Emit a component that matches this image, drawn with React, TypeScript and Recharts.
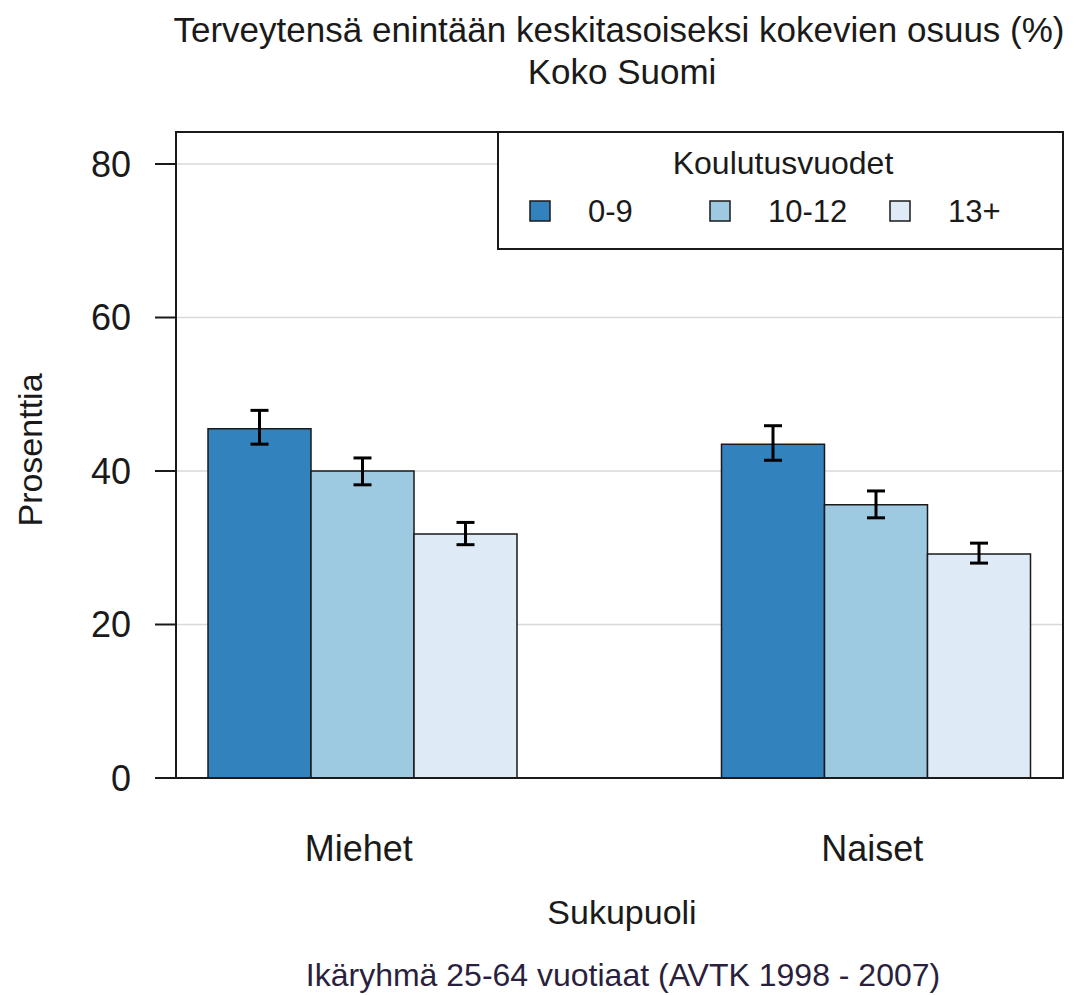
import React from 'react';
import { BarChart, Bar, XAxis, YAxis, CartesianGrid, ErrorBar, Legend } from 'recharts';

const categories = ['Miehet', 'Naiset'];
const seriesNames = ['0-9', '10-12', '13+'];
const seriesColors = ['#3182bd', '#9ecae1', '#deebf7'];

const values09 = [45.5, 43.5];
const low09 = [43.5, 41.4];
const high09 = [47.9, 45.9];

const values1012 = [40.0, 35.6];
const low1012 = [38.2, 33.9];
const high1012 = [41.7, 37.4];

const values13 = [31.8, 29.2];
const low13 = [30.4, 28.0];
const high13 = [33.3, 30.6];

const yTicks = [0, 20, 40, 60, 80];

const titleLine1 = 'Terveytensä enintään keskitasoiseksi kokevien osuus (%)';
const titleLine2 = 'Koko Suomi';
const xTitle = 'Sukupuoli';
const yTitle = 'Prosenttia';
const legendTitle = 'Koulutusvuodet';
const footer = 'Ikäryhmä 25-64 vuotiaat (AVTK 1998 - 2007)';

const data = categories.map((c, i) => ({
  name: c,
  s0: values09[i],
  e0: [values09[i] - low09[i], high09[i] - values09[i]],
  s1: values1012[i],
  e1: [values1012[i] - low1012[i], high1012[i] - values1012[i]],
  s2: values13[i],
  e2: [values13[i] - low13[i], high13[i] - values13[i]],
}));

const FONT = '"Liberation Sans", Arial, sans-serif';
const INK = '#1a1a1a';

const renderLegend = (props: any) => {
  const payload = (props && props.payload) || [];
  return (
    <svg width={567} height={119} style={{ display: 'block' }}>
      <rect x={1} y={1} width={565} height={117} fill="#ffffff" stroke={INK} strokeWidth={2} />
      <text x={286} y={42.5} textAnchor="middle" fontSize={32} fontFamily={FONT} fill={INK}>
        {legendTitle}
      </text>
      {payload.map((p: any, i: number) => (
        <g key={String(p.value)}>
          <rect x={33 + i * 180} y={70} width={20} height={20} fill={p.color} stroke={INK} strokeWidth={1.5} />
          <text x={91 + i * 180} y={91} fontSize={31} fontFamily={FONT} fill={INK}>
            {p.value}
          </text>
        </g>
      ))}
    </svg>
  );
};

export default function App() {
  return (
    <div style={{ position: 'absolute', left: 0, top: 0, width: 1078, height: 995, background: '#fff' }}>
      <BarChart
        width={1078}
        height={995}
        data={data}
        barSize={103}
        barGap={0}
        margin={{ top: 132, right: 15, bottom: 117, left: 26 }}
      >
        <CartesianGrid vertical={false} stroke="#d9d9d9" strokeWidth={1.5} />
        <XAxis
          dataKey="name"
          padding={{ left: -70, right: -70 }}
          height={100}
          tickLine={false}
          tickSize={0}
          tickMargin={57}
          axisLine={{ stroke: INK, strokeWidth: 2 }}
          tick={{ fontSize: 36, fill: INK, fontFamily: FONT, dx: -4 }}
        />
        <YAxis
          domain={[0, 84.17]}
          ticks={yTicks}
          width={150}
          tickSize={21}
          tickMargin={24}
          tickLine={{ stroke: INK, strokeWidth: 2 }}
          axisLine={{ stroke: INK, strokeWidth: 2 }}
          tick={{ fontSize: 36, fill: INK, fontFamily: FONT }}
        />
        <Legend
          layout="horizontal"
          verticalAlign="middle"
          align="center"
          content={renderLegend}
          wrapperStyle={{ position: 'absolute', left: 497, top: 131, width: 567, height: 119, margin: 0, padding: 0 }}
        />
        <Bar dataKey="s0" name={seriesNames[0]} fill={seriesColors[0]} stroke={INK} strokeWidth={1.5} isAnimationActive={false}>
          <ErrorBar dataKey="e0" width={9} stroke="#000" strokeWidth={3} direction="y" />
        </Bar>
        <Bar dataKey="s1" name={seriesNames[1]} fill={seriesColors[1]} stroke={INK} strokeWidth={1.5} isAnimationActive={false}>
          <ErrorBar dataKey="e1" width={9} stroke="#000" strokeWidth={3} direction="y" />
        </Bar>
        <Bar dataKey="s2" name={seriesNames[2]} fill={seriesColors[2]} stroke={INK} strokeWidth={1.5} isAnimationActive={false}>
          <ErrorBar dataKey="e2" width={9} stroke="#000" strokeWidth={3} direction="y" />
        </Bar>
      </BarChart>
      <div
        style={{
          position: 'absolute',
          left: 175,
          top: 131,
          width: 889,
          height: 648,
          boxSizing: 'border-box',
          borderTop: `2px solid ${INK}`,
          borderRight: `2px solid ${INK}`,
          pointerEvents: 'none',
        }}
      />
      <svg
        width={1078}
        height={995}
        style={{ position: 'absolute', left: 0, top: 0, pointerEvents: 'none' }}
      >
        <text x={619} y={42} textAnchor="middle" fontSize={35} fontFamily={FONT} fill={INK}>
          {titleLine1}
        </text>
        <text x={622} y={84} textAnchor="middle" fontSize={35} fontFamily={FONT} fill={INK}>
          {titleLine2}
        </text>
        <text x={622} y={924} textAnchor="middle" fontSize={34} fontFamily={FONT} fill={INK}>
          {xTitle}
        </text>
        <text
          x={42}
          y={450}
          textAnchor="middle"
          fontSize={34}
          fontFamily={FONT}
          fill={INK}
          transform="rotate(-90, 42, 450)"
        >
          {yTitle}
        </text>
        <text x={623} y={986} textAnchor="middle" fontSize={32} fontFamily={FONT} fill="#2a1f3d">
          {footer}
        </text>
      </svg>
    </div>
  );
}
